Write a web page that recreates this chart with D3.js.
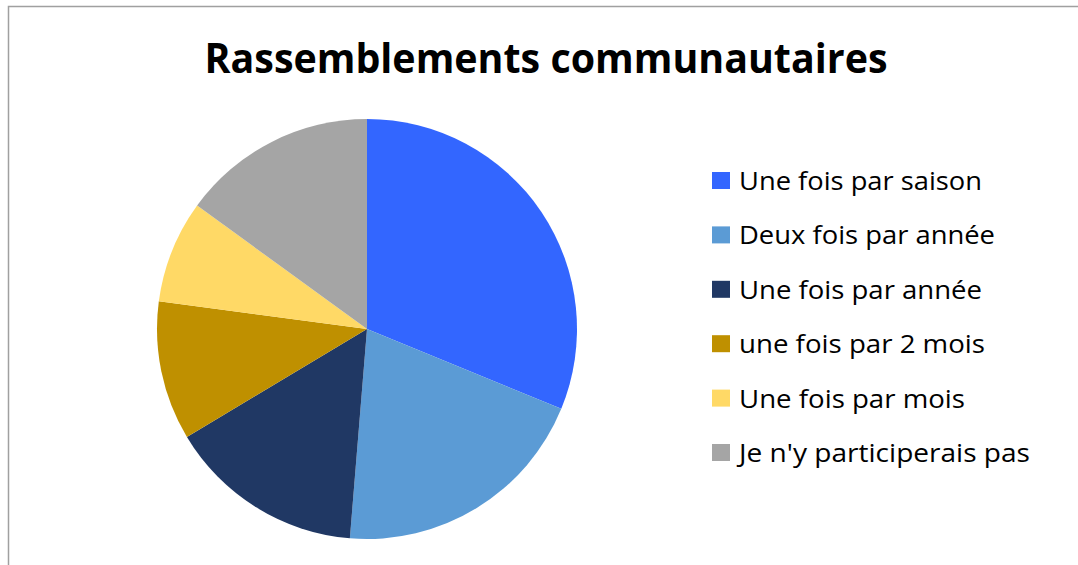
<!DOCTYPE html>
<html><head><meta charset="utf-8">
<script src="https://cdn.jsdelivr.net/npm/d3@7"></script>
<style>body{margin:0;background:#fff;} svg{display:block;}</style>
</head><body>
<svg id="c" width="1078" height="565"></svg>
<script>
const categories = ["Une fois par saison","Deux fois par année","Une fois par année","une fois par 2 mois","Une fois par mois","Je n'y participerais pas"];
const values = [31.2, 20.1, 15.1, 10.7, 7.9, 15.0];
const colors = ["#3366FF","#5B9BD5","#203864","#BF9000","#FFD966","#A5A5A5"];
const title = "Rassemblements communautaires";

const svg = d3.select("#c");
svg.append("rect").attr("x",8.5).attr("y",6.5).attr("width",1200).attr("height",700)
  .attr("fill","#fff").attr("stroke","#A0A0A0").attr("stroke-width",1.5);

svg.append("text").attr("x",546).attr("y",73).attr("text-anchor","middle")
  .attr("font-family","Open Sans, sans-serif").attr("font-weight","bold").attr("font-size",42)
  .attr("textLength",683).attr("lengthAdjust","spacingAndGlyphs")
  .attr("fill","#000").text(title);

const data = categories.map((c,i)=>({c, v: values[i], col: colors[i]}));
const pie = d3.pie().value(d=>d.v).sort(null);
const arc = d3.arc().innerRadius(0).outerRadius(210);
const g = svg.append("g").attr("transform","translate(367,329)");
g.selectAll("path").data(pie(data)).join("path").attr("d",arc).attr("fill",d=>d.data.col);

const y = d3.scalePoint().domain(categories).range([181, 453]);
const lg = svg.append("g");
const widths = [243, 256, 243, 246, 226, 291];
data.forEach((d,i)=>{
  const yy = y(d.c);
  lg.append("rect").attr("x",712).attr("y",yy-9).attr("width",18).attr("height",17).attr("fill",d.col);
  lg.append("text").attr("x",739).attr("y",yy+9).attr("font-family","Open Sans, sans-serif")
    .attr("font-size",25).attr("fill","#000")
    .attr("textLength",widths[i]).attr("lengthAdjust","spacingAndGlyphs").text(d.c);
});
</script>
</body></html>
